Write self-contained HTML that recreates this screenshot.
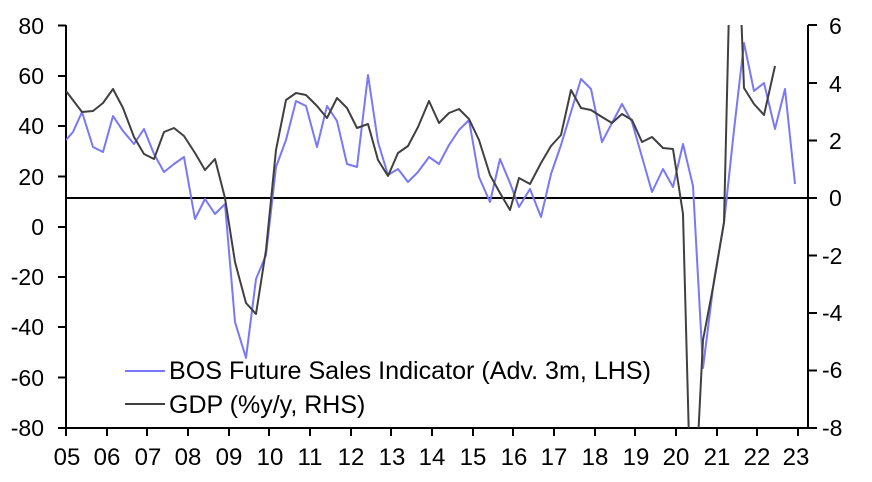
<!DOCTYPE html>
<html><head><meta charset="utf-8"><style>
html,body{margin:0;padding:0;background:#fff;}
svg{display:block;font-family:"Liberation Sans",Arial,sans-serif;}
</style></head><body>
<svg width="872" height="482" viewBox="0 0 872 482" xmlns="http://www.w3.org/2000/svg">
<defs><clipPath id="c"><rect x="66" y="25" width="742" height="403"/></clipPath></defs>
<g font-size="23" fill="#000">
<text x="44" y="34" text-anchor="end">80</text>
<text x="44" y="84" text-anchor="end">60</text>
<text x="44" y="134" text-anchor="end">40</text>
<text x="44" y="185" text-anchor="end">20</text>
<text x="44" y="235" text-anchor="end">0</text>
<text x="44" y="285" text-anchor="end">-20</text>
<text x="44" y="335" text-anchor="end">-40</text>
<text x="44" y="386" text-anchor="end">-60</text>
<text x="44" y="436" text-anchor="end">-80</text>
<text x="829" y="34">6</text>
<text x="829" y="92">4</text>
<text x="829" y="149">2</text>
<text x="829" y="206">0</text>
<text x="822" y="264">-2</text>
<text x="822" y="321">-4</text>
<text x="822" y="378">-6</text>
<text x="822" y="436">-8</text>
</g>
<g font-size="24" text-anchor="middle">
<text x="67" y="465">05</text><text x="107" y="465">06</text><text x="148" y="465">07</text><text x="188" y="465">08</text><text x="229" y="465">09</text><text x="270" y="465">10</text><text x="310" y="465">11</text><text x="351" y="465">12</text><text x="392" y="465">13</text><text x="432" y="465">14</text><text x="473" y="465">15</text><text x="514" y="465">16</text><text x="554" y="465">17</text><text x="595" y="465">18</text><text x="636" y="465">19</text><text x="676" y="465">20</text><text x="717" y="465">21</text><text x="757" y="465">22</text><text x="796" y="465">23</text>
</g>
<g stroke="#000" stroke-width="2" fill="none">
<line x1="66" y1="25" x2="66" y2="428"/>
<line x1="808" y1="25" x2="808" y2="428"/>
<line x1="65" y1="428" x2="809" y2="428"/>
<line x1="66" y1="198" x2="808" y2="198"/>
<path d="M58 25.5H66M58 76H66M58 126H66M58 176.5H66M58 227H66M58 277H66M58 327H66M58 377.5H66M58 428H66"/>
<path d="M808 25H817M808 83H817M808 140.5H817M808 198H817M808 255.5H817M808 313H817M808 370.5H817M808 428H817"/>
<path d="M66 428v8M107 428v8M147 428v8M188 428v8M229 428v8M269 428v8M310 428v8M351 428v8M391 428v8M432 428v8M473 428v8M513 428v8M554 428v8M595 428v8M635 428v8M676 428v8M717 428v8M757 428v8M798 428v8"/>
</g>
<g clip-path="url(#c)" fill="none" stroke-width="2" stroke-linejoin="round">
<polyline stroke="#7878f8" points="66,140 73,132 82,112 93,147 103,152 113,116 123,131 134,144 144,129 154,154 164,172 174,164 184,157 195,219 205,199 215,214 225,204 235,322 246,358 256,279 266,255 276,167 286,140 296,101 306,106 317,147 327,106 337,121 347,164 357,167 368,75 378,142 388,175 398,169 408,182 418,172 429,157 439,164 449,145 459,130 469,120 479,177 490,202 500,159 510,183 519,207 530,189 541,217 551,174 561,145 571,112 581,79 591,89 602,142 612,123 622,104 632,122 642,157 652,192 663,169 673,187 683,144 693,186 703,368 714,280 724,223 734,130 744,43 754,91 764,83 775,129 785,89 795,184"/>
<polyline stroke="#404040" points="66,91 82,112 93,111 103,103 113,89 123,108 134,137 144,154 154,159 164,132 174,128 184,136 195,153 205,170 215,159 225,198 235,262 246,303 256,314 266,250 276,150 286,100 296,93 306,95 317,106 327,118 337,98 347,108 357,128 368,124 378,160 388,176 398,153 408,146 418,127 429,101 439,123 449,113 459,109 469,119 479,140 490,175 500,193 510,210 519,178 530,184 541,163 551,146 561,135 571,90 581,108 591,110 602,117 612,123 622,114 632,120 642,142 652,137 663,148 673,149 683,214 689,440 698,440 703,340 714,282 724,222 729,10 741,10 744,88 754,104 764,115 775,66"/>
</g>
<line x1="125" y1="371" x2="165" y2="371" stroke="#7878f8" stroke-width="2"/>
<line x1="125" y1="404" x2="165" y2="404" stroke="#404040" stroke-width="2"/>
<text x="169" y="379" font-size="25" textLength="482" lengthAdjust="spacingAndGlyphs">BOS Future Sales Indicator (Adv. 3m, LHS)</text>
<text x="169" y="413" font-size="25">GDP (%y/y, RHS)</text>
</svg>
</body></html>
